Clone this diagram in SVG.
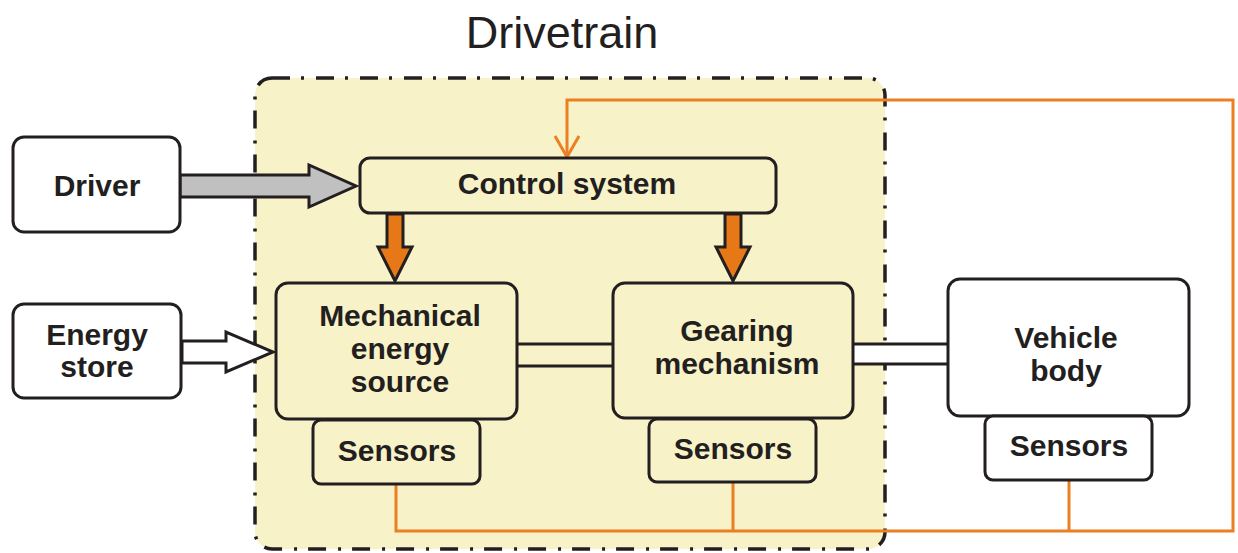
<svg xmlns="http://www.w3.org/2000/svg" width="1238" height="553" viewBox="0 0 1238 553">
  <style>
    .box { stroke: #231f20; stroke-width: 3; }
    .yel { fill: #f8f2c9; }
    .wht { fill: #ffffff; }
    .lbl { font-family: "Liberation Sans", Arial, sans-serif; font-weight: bold; font-size: 30px; fill: #231f20; text-anchor: middle; }
    .wire { fill: none; stroke: #ec7f22; stroke-width: 3; }
    .band { stroke: #231f20; stroke-width: 3; }
  </style>

  <g id="drivetrain-region">
    <rect x="255" y="78" width="630" height="471" rx="17" ry="17" fill="#f8f2c9" stroke="#231f20" stroke-width="3.5" stroke-dasharray="18 11 3 12"/>
    <text x="562" y="48" font-family="Liberation Sans, Arial, sans-serif" font-size="45" fill="#231f20" text-anchor="middle">Drivetrain</text>
  </g>

  <g id="connectors">
    <polyline class="wire" points="396,485 396,531 1233,531 1233,100 567,100 567,156"/>
    <line class="wire" x1="733" y1="482" x2="733" y2="531"/>
    <line class="wire" x1="1069" y1="480" x2="1069" y2="531"/>
    <polyline class="wire" points="555,136 567,157 579,136"/>
    <polygon class="box" fill="#c0c0c0" points="180,175 309,175 309,165 356,186 309,207 309,197 180,197"/>
    <polygon class="box" fill="#ffffff" points="182,341 226,341 226,332 273,352 226,372 226,363 182,363"/>
    <polygon class="box" fill="#e67817" points="387,214 403,214 403,247 412,247 395,281 378,247 387,247"/>
    <polygon class="box" fill="#e67817" points="725,214 741,214 741,247 750,247 733,281 716,247 725,247"/>
    <rect x="517" y="344" width="96" height="22" fill="#f8f2c9"/>
    <line class="band" x1="517" y1="344" x2="613" y2="344"/>
    <line class="band" x1="517" y1="366" x2="613" y2="366"/>
    <rect x="853" y="344" width="95" height="20" fill="#ffffff"/>
    <line class="band" x1="853" y1="344" x2="948" y2="344"/>
    <line class="band" x1="853" y1="364" x2="948" y2="364"/>
  </g>

  <g id="driver">
    <rect class="box wht" x="13" y="137" width="167" height="95" rx="11"/>
    <text class="lbl" x="97" y="196">Driver</text>
  </g>

  <g id="energy-store">
    <rect class="box wht" x="13" y="304" width="168" height="94" rx="11"/>
    <text class="lbl" x="97" y="345">Energy</text>
    <text class="lbl" x="97" y="377">store</text>
  </g>

  <g id="control-system">
    <rect class="box yel" x="360" y="158" width="416" height="55" rx="10"/>
    <text class="lbl" x="567" y="194">Control system</text>
  </g>

  <g id="mech-source">
    <rect class="box yel" x="276" y="283" width="241" height="136" rx="12"/>
    <text class="lbl" x="400" y="326">Mechanical</text>
    <text class="lbl" x="400" y="359">energy</text>
    <text class="lbl" x="400" y="392">source</text>
  </g>

  <g id="mech-sensors">
    <rect class="box yel" x="313" y="420" width="167" height="64" rx="8"/>
    <text class="lbl" x="397" y="461">Sensors</text>
  </g>

  <g id="gearing">
    <rect class="box yel" x="613" y="283" width="240" height="135" rx="12"/>
    <text class="lbl" x="737" y="341">Gearing</text>
    <text class="lbl" x="737" y="374">mechanism</text>
  </g>

  <g id="gearing-sensors">
    <rect class="box yel" x="649" y="419" width="167" height="63" rx="8"/>
    <text class="lbl" x="733" y="459">Sensors</text>
  </g>

  <g id="vehicle-body">
    <rect class="box wht" x="948" y="279" width="241" height="137" rx="12"/>
    <text class="lbl" x="1066" y="348">Vehicle</text>
    <text class="lbl" x="1066" y="381">body</text>
  </g>

  <g id="vehicle-sensors">
    <rect class="box wht" x="985" y="416" width="167" height="64" rx="8"/>
    <text class="lbl" x="1069" y="456">Sensors</text>
  </g>
</svg>
